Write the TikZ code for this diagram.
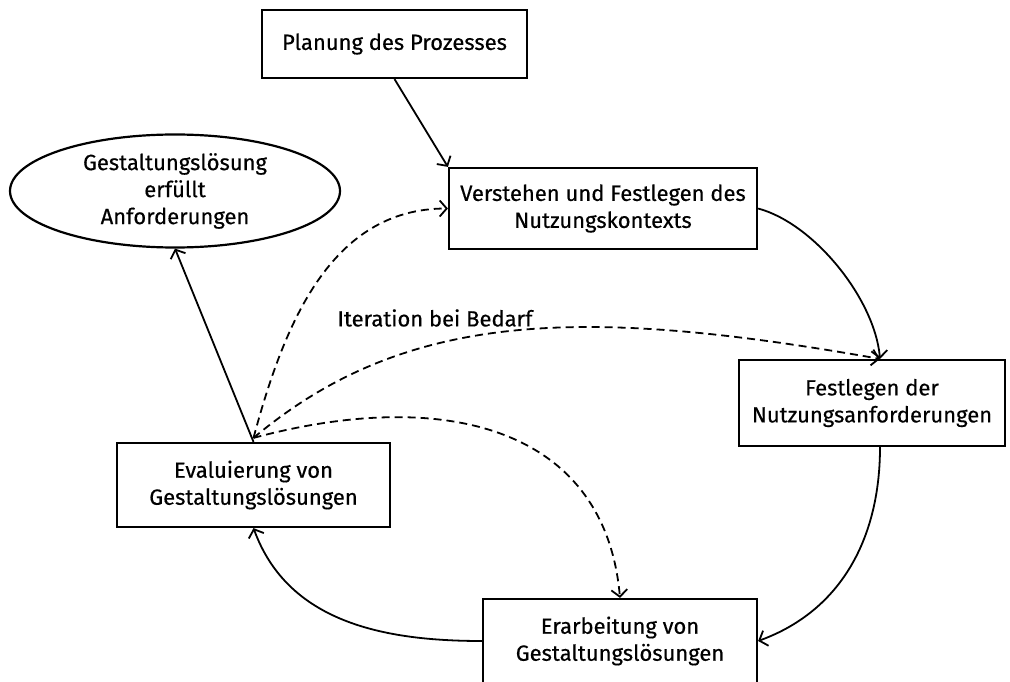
\documentclass[tikz,border=0pt]{standalone}
\usepackage{fontspec}
\setmainfont{Fira Sans}[UprightFeatures={FakeBold=0.4}]
\usepackage{tikz}
\usetikzlibrary{shapes.geometric, arrows.meta, positioning}

\begin{document}
\begin{tikzpicture}[
    x=0.5pt, y=0.5pt,
    font=\fontsize{11}{13.5}\selectfont,
    stage/.style={draw, line width=1.1pt, align=center, minimum width=#1, inner sep=2pt},
    goal/.style={draw, ellipse, line width=1.1pt, align=center, minimum width=165pt, minimum height=56.5pt, inner sep=0pt},
    arrow/.style={-{Straight Barb[length=3.5pt, width=8pt]}, line width=0.9pt},
    iter/.style={arrow, dash pattern=on 4pt off 2.5pt}
]
    \useasboundingbox (0,0) rectangle (1010,681);

    \node[stage=132.5pt, minimum height=34pt] (plan) at (394.5,637) {Planung des Prozesses};
    \node[stage=154pt, minimum height=40.5pt] (verst) at (603,472.5) {Verstehen und Festlegen des\\Nutzungskontexts};
    \node[stage=133pt, minimum height=43pt] (fest) at (872,278) {Festlegen der\\Nutzungsanforderungen};
    \node[stage=137pt, minimum height=42pt] (erarb) at (620,40) {Erarbeitung von\\Gestaltungslösungen};
    \node[stage=136.5pt, minimum height=42pt] (eval) at (253.5,196) {Evaluierung von\\Gestaltungslösungen};
    \node[goal] (ziel) at (175,490) {Gestaltungslösung\\erfüllt\\Anforderungen};

    % Hauptzyklus
    \draw[arrow] (plan.south) -- (verst.north west);
    \draw[arrow] (verst.east) .. controls +(-15:58) and +(95:60) .. ([xshift=4pt]fest.north);
    \draw[arrow] ([xshift=4pt]fest.south) to[out=-90, in=20] (erarb.east);
    \draw[arrow] (erarb.west) to[out=180, in=-70] (eval.south);
    \draw[arrow] (eval.north) -- (ziel.south);

    % Iterationen
    \draw[iter] ([yshift=2pt]eval.north) to[out=75, in=180] (verst.west);
    \draw[iter] ([yshift=2pt]eval.north) .. controls +(40:200) and +(170:300) .. ([xshift=4pt]fest.north);
    \draw[iter] ([yshift=2pt]eval.north) .. controls +(15:200) and +(95:170) .. (erarb.north);
    \node (label) at (435,363) {Iteration bei Bedarf};
\end{tikzpicture}
\end{document}
